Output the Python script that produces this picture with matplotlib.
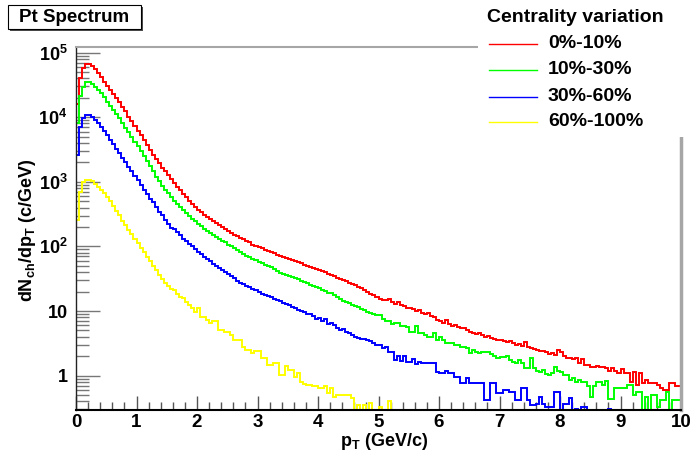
import numpy as np
import matplotlib.pyplot as plt
from matplotlib.patches import Rectangle
from matplotlib.lines import Line2D
from matplotlib.ticker import FixedLocator, MultipleLocator, LogLocator, NullFormatter

plt.rcParams['font.family'] = 'Liberation Sans'
plt.rcParams['font.weight'] = 'bold'
plt.rcParams['mathtext.fontset'] = 'custom'
plt.rcParams['mathtext.rm'] = 'Liberation Sans:bold'
plt.rcParams['mathtext.it'] = 'Liberation Sans:bold'
plt.rcParams['mathtext.bf'] = 'Liberation Sans:bold'
plt.rcParams['mathtext.default'] = 'regular'

############################# data ###########################
# 200 bins of 0.05 GeV/c, from 0 to 10
bin_width = 0.05
n_bins = 200

cent_0_10 = [
    15800, 40700, 57500, 67600, 66100, 61700, 55000, 47900, 41700, 35500,
    30200, 26300, 22900, 19500, 17000, 14500, 12300, 10200, 8700, 7240,
    6170, 5250, 4370, 3720, 3090, 2630, 2240, 1950, 1660, 1450,
    1260, 1100, 955, 832, 741, 646, 575, 513, 457, 407,
    372, 339, 309, 288, 263, 245, 229, 214, 200, 186,
    174, 162, 151, 145, 135, 129, 120, 115, 107, 102,
    98, 93, 89, 85, 81, 78, 74, 72, 69, 66,
    64, 62, 59, 57, 55, 52, 50, 48, 47, 45,
    43, 42, 40, 38, 36, 35, 33, 31.6, 30, 29,
    27.5, 26, 25, 23.5, 22.4, 21, 20, 18.6, 17.4, 16.2,
    15.5, 15.0, 14.6, 15.2, 13.8, 13.0, 13.6, 12.4, 11.8, 11.2,
    11.0, 10.6, 10.0, 10.2, 9.4, 9.0, 9.2, 8.4, 8.0, 7.3,
    6.9, 6.6, 7.2, 6.2, 5.9, 6.0, 5.6, 5.4, 5.5, 5.0,
    4.8, 4.6, 4.4, 4.5, 4.2, 4.0, 4.1, 3.8, 3.7, 3.5,
    3.6, 3.4, 3.3, 3.4, 3.15, 3.0, 3.1, 2.9, 3.3, 2.8,
    2.7, 2.6, 2.5, 2.4, 2.45, 2.3, 2.2, 2.25, 2.1, 2.5,
    2.3, 2.0, 1.9, 1.85, 1.8, 1.86, 1.56, 1.8, 1.47, 1.47,
    1.38, 1.38, 1.4, 1.35, 1.38, 1.3, 1.2, 1.3, 1.2, 1.09,
    1.25, 1.1, 1.09, 0.81, 1.15, 0.72, 1.09, 0.76, 0.86, 0.76,
    0.76, 0.76, 0.72, 0.64, 0.6, 0.6, 0.78, 0.78, 0.7, 0.68,
]

cent_10_30 = [
    8100, 21400, 29500, 34700, 34700, 32400, 29500, 26300, 23400, 20400,
    17400, 15100, 12900, 11200, 9550, 8130, 6920, 5890, 5010, 4170,
    3550, 2950, 2510, 2090, 1780, 1480, 1200, 1020, 870, 760,
    660, 575, 513, 457, 407, 363, 324, 295, 269, 245,
    224, 204, 186, 174, 162, 151, 141, 132, 123, 115,
    107, 100, 93, 87, 81, 76, 72, 68, 65, 62,
    58, 55, 52.5, 50, 48, 45, 41, 39, 38, 36,
    35, 34, 32, 31, 29.5, 28, 27, 25.7, 24.5, 23.4,
    22.4, 21.4, 20.4, 19, 18.8, 17.4, 16.2, 15.1, 14.5, 13.8,
    13.2, 12.6, 12.0, 11.5, 10.7, 10.2, 9.8, 9.3, 8.9, 8.7,
    8.7, 7.5, 7.1, 7.1, 6.3, 6.6, 6.6, 5.9, 5.9, 5.75,
    4.8, 4.8, 5.9, 4.6, 4.6, 4.27, 4.03, 4.03, 4.5, 3.57,
    4.03, 3.57, 3.16, 3.16, 3.16, 3.0, 3.0, 2.8, 2.8, 2.66,
    2.22, 2.5, 2.3, 2.27, 2.3, 2.36, 2.36, 2.2, 2.0, 1.86,
    1.97, 1.97, 2.05, 1.75, 1.6, 1.56, 1.75, 1.56, 1.3, 1.3,
    1.86, 1.3, 1.2, 1.15, 1.22, 1.05, 1.03, 1.09, 1.38, 1.2,
    1.15, 1.03, 1.03, 0.86, 0.91, 0.81, 0.87, 0.81, 0.81, 0.68,
    0.47, 0.68, 0.81, 0.81, 0.72, 0.84, 0.43, 0.43, 0.64, 0.64,
    0.64, 0.64, 0.72, 0.72, 0.5, 0.56, 0.56, 0, 0.47, 0,
    0.5, 0.5, 0.33, 0.42, 0.42, 0.56, 0, 0.42, 0.42, 0.42,
]

cent_30_60 = [
    2630, 7100, 9800, 10700, 10700, 10000, 9100, 8100, 7100, 6200,
    5250, 4470, 3800, 3240, 2750, 2340, 2000, 1700, 1450, 1230,
    1050, 890, 760, 645, 550, 480, 407, 347, 302, 257,
    224, 195, 186, 166, 148, 132, 120, 110, 100, 91,
    83, 76, 69, 65, 59, 54, 50, 46, 43, 40,
    37, 35, 32, 29.5, 27.5, 26, 24.5, 23.4, 22, 21,
    19.5, 18.6, 17.8, 17, 16.2, 15.5, 14.8, 14.1, 13.5, 12.9,
    12.3, 11.7, 11.2, 10.5, 10.0, 9.5, 8.9, 9.1, 8.3, 7.6,
    7.9, 7.1, 7.4, 6.3, 6.6, 6.0, 5.5, 5.1, 5.2, 4.7,
    4.5, 4.2, 4.0, 3.8, 3.7, 3.7, 3.6, 3.4, 3.2, 3.0,
    3.0, 2.66, 2.82, 2.36, 2.36, 1.75, 2.02, 1.71, 2.02, 1.65,
    1.65, 1.80, 1.52, 1.65, 1.56, 1.56, 1.56, 1.59, 1.59, 1.15,
    1.09, 1.09, 1.2, 1.09, 1.09, 0.97, 0.97, 0.78, 0.78, 0.91,
    0.78, 0.78, 0.78, 0.78, 0.78, 0.42, 0.42, 0.78, 0.78, 0.53,
    0.53, 0.6, 0.6, 0.56, 0.56, 0.42, 0.42, 0.64, 0.64, 0.42,
    0.35, 0.35, 0.37, 0.47, 0.37, 0.33, 0.33, 0.33, 0.55, 0.55,
    0, 0.37, 0.37, 0.45, 0, 0.31, 0, 0.33, 0.33, 0,
    0, 0, 0, 0, 0, 0, 0.31, 0, 0, 0,
    0, 0, 0, 0, 0, 0, 0, 0, 0, 0,
    0, 0, 0, 0, 0, 0, 0, 0, 0, 0,
]

cent_60_100 = [
    257, 690, 980, 1070, 1070, 1020, 930, 830, 740, 660,
    575, 500, 417, 355, 302, 251, 214, 182, 155, 132,
    112, 95, 81, 69, 59, 50, 43, 36, 31.6, 27.5,
    24.5, 22, 21, 18.5, 16.5, 15.8, 14, 12.5, 11.1, 9.8,
    11.1, 8.2, 8.2, 7.3, 6.5, 6.9, 6.9, 5.1, 5.1, 4.8,
    4.8, 4.27, 3.57, 3.57, 3.57, 2.82, 2.5, 2.5, 2.22, 2.42,
    2.42, 1.86, 1.86, 1.47, 1.47, 1.56, 1.56, 1.03, 1.03, 1.4,
    1.22, 1.22, 0.97, 1.1, 0.81, 0.74, 0.72, 0.72, 0.68, 0.68,
    0.64, 0.64, 0.68, 0.53, 0.64, 0.47, 0.5, 0.5, 0.5, 0.5,
    0.5, 0.45, 0, 0.35, 0, 0.35, 0, 0.38, 0, 0,
    0.33, 0, 0, 0.4, 0, 0, 0, 0, 0, 0,
    0, 0, 0, 0, 0, 0, 0, 0, 0, 0,
    0, 0, 0, 0, 0, 0, 0, 0, 0, 0,
    0, 0, 0, 0, 0, 0, 0, 0, 0, 0,
    0, 0, 0, 0, 0, 0, 0, 0, 0, 0,
    0, 0, 0, 0, 0, 0, 0, 0, 0, 0,
    0, 0, 0, 0, 0, 0, 0, 0, 0, 0,
    0, 0, 0, 0, 0, 0, 0, 0, 0, 0,
    0, 0, 0, 0, 0, 0, 0, 0, 0, 0,
    0, 0, 0, 0, 0, 0, 0, 0, 0, 0,
]

labels = ['0%-10%', '10%-30%', '30%-60%', '60%-100%']
colors = ['#ff0000', '#00ff00', '#0000ff', '#ffff00']
series = [cent_0_10, cent_10_30, cent_30_60, cent_60_100]

y_ticks = [1, 10, 1e2, 1e3, 1e4, 1e5]
y_tick_labels = ['1', '10', r'$10^{2}$', r'$10^{3}$', r'$10^{4}$', r'$10^{5}$']

############################# plot ###########################
W, H = 691, 451
fig = plt.figure(figsize=(W / 100, H / 100), dpi=100)
ax = fig.add_axes([76 / W, 1 - 410 / H, 605 / W, 363 / H])

ymin, ymax = 0.294, 1.22e5
edges = np.arange(n_bins + 1) * bin_width

for vals, col in zip(series, colors):
    ax.stairs(np.clip(np.array(vals, dtype=float), ymin, None), edges,
              baseline=None, color=col, lw=1.4, clip_on=False, zorder=2)

ax.set_yscale('log')
ax.set_xlim(0, 10)
ax.set_ylim(ymin, ymax)

ax.xaxis.set_major_locator(MultipleLocator(1))
ax.xaxis.set_minor_locator(MultipleLocator(0.2))
ax.yaxis.set_major_locator(FixedLocator(y_ticks))
ax.yaxis.set_major_formatter(plt.FixedFormatter(y_tick_labels))
ax.yaxis.set_minor_locator(LogLocator(base=10, subs=np.arange(2, 10), numticks=20))
ax.yaxis.set_minor_formatter(NullFormatter())

ax.tick_params(axis='x', which='major', direction='in', length=10, width=1,
               color='#555555', labelsize=13.5, pad=3)
ax.tick_params(axis='x', which='minor', direction='in', length=5.5, width=1,
               color='#555555')
ax.tick_params(axis='y', which='major', direction='in', length=17, width=1,
               color='#777777', labelsize=13, pad=6)
ax.tick_params(axis='y', which='minor', direction='in', length=9, width=1,
               color='#777777')

ax.spines['left'].set_color('#222222')
ax.spines['left'].set_linewidth(1.0)
ax.spines['bottom'].set_color('#000000')
ax.spines['bottom'].set_linewidth(1.5)
ax.spines['top'].set_color('#a6a6a6')
ax.spines['top'].set_linewidth(1.5)
ax.spines['right'].set_color('#a6a6a6')
ax.spines['right'].set_linewidth(2.5)

# axis titles
fig.text(28 / W, 1 - 230 / H, r'$dN_{ch}/dp_{T}$ (c/GeV)', rotation=90,
         ha='center', va='center', fontsize=13, fontweight='bold')
fig.text(384 / W, 1 - 442 / H, r'$p_{T}$ (GeV/c)', ha='center', va='center',
         fontsize=13, fontweight='bold')

# title box with shadow
fig.add_artist(Rectangle((10 / W, 1 - 31 / H), 133 / W, 24 / H,
                         transform=fig.transFigure, facecolor='#4d4d4d',
                         edgecolor='none', zorder=5))
fig.add_artist(Rectangle((8 / W, 1 - 29 / H), 133 / W, 24 / H,
                         transform=fig.transFigure, facecolor='white',
                         edgecolor='black', lw=0.8, zorder=6))
fig.text(74.5 / W, 1 - 17 / H, 'Pt Spectrum', ha='center', va='center',
         fontsize=13.5, fontweight='bold', zorder=7)

# legend
fig.add_artist(Rectangle((478 / W, 1 - 137 / H), 213 / W, 137 / H,
                         transform=fig.transFigure, facecolor='white',
                         edgecolor='none', zorder=5))
fig.text(487 / W, 1 - 17 / H, 'Centrality variation', ha='left', va='center',
         fontsize=14, fontweight='bold', zorder=7)
row_y = [44, 70, 96.5, 122]
for lab, col, yy in zip(labels, colors, row_y):
    fig.add_artist(Line2D([489 / W, 537 / W], [1 - yy / H, 1 - yy / H],
                          transform=fig.transFigure, color=col, lw=1.0, zorder=7))
    fig.text(548 / W, 1 - yy / H, lab, ha='left', va='center',
             fontsize=14, fontweight='bold', zorder=7)

fig.savefig('out.png', dpi=100)
